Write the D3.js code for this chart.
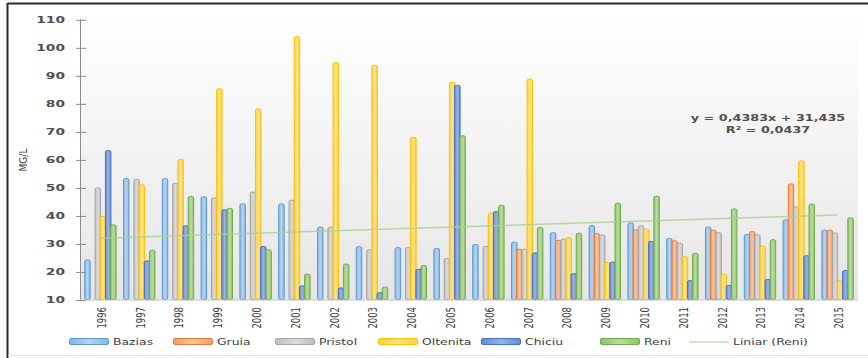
<!DOCTYPE html>
<html>
<head>
<meta charset="utf-8">
<script src="https://cdn.jsdelivr.net/npm/d3@7"></script>
<style>
  html, body { margin: 0; padding: 0; background: #fff; }
  svg { display: block; }
  text { font-family: "DejaVu Sans", sans-serif; }
</style>
</head>
<body>
<svg id="chart" width="868" height="358"></svg>
<script>
// Annual concentrations (mg/L) at Danube monitoring stations, 1996-2015
const years = ["1996","1997","1998","1999","2000","2001","2002","2003","2004","2005",
               "2006","2007","2008","2009","2010","2011","2012","2013","2014","2015"];
const bazias   = [24.3,53.3,53.3,46.8,44.3,44.3,36.0,29.0,28.7,28.4,29.8,30.6,34.0,36.5,37.5,31.9,36.0,33.4,38.6,34.9];
const gruia    = [null,null,null,null,null,null,null,null,null,null,null,28.1,31.3,33.7,35.0,31.1,34.9,34.4,51.4,34.9];
const pristol  = [50.0,53.1,51.6,46.4,48.5,45.6,36.0,27.9,28.7,24.8,29.1,28.1,31.7,33.2,36.5,30.3,34.0,33.3,43.2,33.9];
const oltenita = [39.8,51.1,60.1,85.4,78.2,104.0,94.7,93.7,68.0,87.7,41.0,88.8,32.2,23.4,35.3,25.4,19.1,29.2,59.6,17.0];
const chiciu   = [63.3,23.9,36.5,42.2,29.1,15.0,14.3,12.6,20.9,86.6,41.5,26.8,19.4,23.5,30.9,16.9,15.2,17.3,25.8,20.5];
const reni     = [36.8,27.7,46.9,42.7,27.9,19.2,22.8,14.6,22.3,68.6,43.8,35.9,33.8,44.5,47.0,26.6,42.5,31.5,44.2,39.3];

const seriesNames = ["Bazias","Gruia","Pristol","Oltenita","Chiciu","Reni"];
const seriesValues = [bazias, gruia, pristol, oltenita, chiciu, reni];
const seriesStroke = ["#5B9BD5","#ED7D31","#A5A5A5","#FFC000","#4472C4","#70AD47"];
const seriesFill   = ["#86B4E1","#F19A62","#BEBEBE","#FFCF40","#6689D2","#8DC16A"];
const seriesLight  = ["#B9D5F0","#F8C6A5","#DCDCDC","#FFE48C","#9DB4E4","#BCDDA6"];

// Linear trend fitted to Reni: y = slope * x + intercept, x = 1..20
const trendCoef = [0.4383, 31.435];
const trendLabel = ["y = 0,4383x + 31,435", "R\u00B2 = 0,0437"];
const trendName = "Liniar (Reni)";

const yTicks = [10,20,30,40,50,60,70,80,90,100,110];
const yTitle = "MG/L";

const svg = d3.select("#chart");
const STRETCH = 1.5;

// Frame
svg.append("line").attr("x1", 7.5).attr("x2", 868).attr("y1", 3.5).attr("y2", 3.5)
  .attr("stroke", "#2b2b2b").attr("stroke-width", 2);
svg.append("line").attr("x1", 7.5).attr("x2", 7.5).attr("y1", 3).attr("y2", 358)
  .attr("stroke", "#2b2b2b").attr("stroke-width", 2);
svg.append("line").attr("x1", 8).attr("x2", 868).attr("y1", 355.5).attr("y2", 355.5)
  .attr("stroke", "#e2e2e2").attr("stroke-width", 1);

const plot = { left: 80, right: 858, top: 19.3, bottom: 299.5 };

const x = d3.scaleBand().domain(years).range([81, 857])
  .paddingInner(0.165).paddingOuter(0.0825);
const y = d3.scaleLinear().domain([10, 110]).range([plot.bottom, plot.top]);

const defs = svg.append("defs");
const bg = defs.append("linearGradient").attr("id", "plotBg")
  .attr("x1", 0).attr("x2", 0).attr("y1", 0).attr("y2", 1);
bg.append("stop").attr("offset", "0%").attr("stop-color", "#ffffff");
bg.append("stop").attr("offset", "100%").attr("stop-color", "#e6e6e6");

seriesNames.forEach((name, i) => {
  const g = defs.append("linearGradient").attr("id", "bar" + i)
    .attr("x1", 0).attr("x2", 1).attr("y1", 0).attr("y2", 0);
  g.append("stop").attr("offset", "0%").attr("stop-color", seriesFill[i]);
  g.append("stop").attr("offset", "50%").attr("stop-color", seriesLight[i]);
  g.append("stop").attr("offset", "100%").attr("stop-color", seriesFill[i]);
});

// Plot area background
svg.append("rect")
  .attr("x", plot.left).attr("y", 10)
  .attr("width", plot.right - plot.left).attr("height", plot.bottom - 10)
  .attr("fill", "url(#plotBg)");

// Bars: six overlapping bars per year
const n = seriesNames.length;
const overlapRatio = 1.25;
const step = x.bandwidth() / (n - 1 + overlapRatio);
const barW = step * overlapRatio;

const rows = [];
years.forEach((yr, j) => {
  seriesValues.forEach((vals, i) => {
    if (vals[j] != null) rows.push({ yr, i, v: vals[j] });
  });
});

svg.append("g").selectAll("rect").data(rows).join("rect")
  .attr("x", d => x(d.yr) + d.i * step + 0.5)
  .attr("y", d => y(d.v) + 0.5)
  .attr("width", barW - 1)
  .attr("height", d => y(10) - y(d.v) - 0.5)
  .attr("rx", 1.5)
  .attr("fill", d => `url(#bar${d.i})`)
  .attr("stroke", d => seriesStroke[d.i])
  .attr("stroke-width", 1);

// X axis baseline
svg.append("line").attr("x1", plot.left).attr("x2", plot.right)
  .attr("y1", plot.bottom + 0.5).attr("y2", plot.bottom + 0.5)
  .attr("stroke", "#bfbfbf").attr("stroke-width", 1);

// Y axis
const yAxis = svg.append("g").attr("transform", `translate(${plot.left},0)`)
  .call(d3.axisLeft(y).tickValues(yTicks).tickSize(0).tickPadding(0));
yAxis.select(".domain").attr("stroke", "#8c8c8c").attr("d", `M0.5,${plot.top}V${plot.bottom}`);
yAxis.selectAll(".tick line").remove();
yAxis.selectAll(".tick").append("line")
  .attr("x1", -4).attr("x2", 6).attr("y1", 0.5).attr("y2", 0.5)
  .attr("stroke", "#8c8c8c");
yAxis.selectAll(".tick text")
  .attr("x", null).attr("dy", null)
  .attr("text-anchor", "end")
  .attr("dominant-baseline", "central")
  .attr("transform", "translate(-15,0) scale(1.62,1)")
  .attr("font-size", 8.5).attr("font-weight", "bold")
  .attr("font-family", "DejaVu Sans")
  .attr("fill", "#505050");

// Y axis title
svg.append("text")
  .attr("transform", "translate(23,160) scale(1.2,1) rotate(-90)")
  .attr("text-anchor", "middle").attr("dy", "0.35em")
  .attr("font-size", 9).attr("fill", "#404040")
  .text(yTitle);

// X axis labels (rotated)
svg.append("g").selectAll("text").data(years).join("text")
  .attr("transform", d => `translate(${x(d) + x.bandwidth() / 2 + 1},307) scale(${STRETCH},1) rotate(-90)`)
  .attr("text-anchor", "end").attr("dy", "0.35em")
  .attr("font-size", 8.5).attr("fill", "#404040")
  .text(d => d);

// Trend line for Reni
const xi = i => x(years[i - 1]) + x.bandwidth() / 2;
const trendPts = [1, years.length].map(i => [xi(i), y(trendCoef[0] * i + trendCoef[1])]);
svg.append("path")
  .attr("d", d3.line()(trendPts))
  .attr("stroke", "#a9d18e").attr("stroke-opacity", 0.8)
  .attr("stroke-width", 1.5).attr("fill", "none");

// Trend equation
svg.append("g").selectAll("text").data(trendLabel).join("text")
  .attr("transform", (d, i) => `translate(768,${118 + i * 12}) scale(1.42,1)`)
  .attr("text-anchor", "middle").attr("dominant-baseline", "central")
  .attr("font-size", 9).attr("font-weight", 600).attr("fill", "#505050")
  .text(d => d);

// Legend
const legendItems = seriesNames.map((s, i) => ({ name: s, i, kind: "bar" }))
  .concat([{ name: trendName, i: 5, kind: "line" }]);
const legendX = [69, 173, 275, 378, 481, 600, 689];
const ly = 342;
const legend = svg.append("g");
legendItems.forEach((item, k) => {
  const lx = legendX[k];
  const g = legend.append("g");
  if (item.kind === "bar") {
    g.append("rect").attr("x", lx + 0.5).attr("y", ly - 3.5)
      .attr("width", 39).attr("height", 6).attr("rx", 1.5)
      .attr("fill", `url(#bar${item.i})`).attr("stroke", seriesStroke[item.i]);
  } else {
    g.append("line").attr("x1", lx).attr("x2", lx + 40).attr("y1", ly).attr("y2", ly)
      .attr("stroke", "#a9d18e").attr("stroke-opacity", 0.7).attr("stroke-width", 1.5);
  }
  g.append("text")
    .attr("transform", `translate(${lx + 44},${ly}) scale(1.38,1)`)
    .attr("dominant-baseline", "central")
    .attr("font-size", 9).attr("fill", "#404040")
    .text(item.name);
});
</script>
</body>
</html>
